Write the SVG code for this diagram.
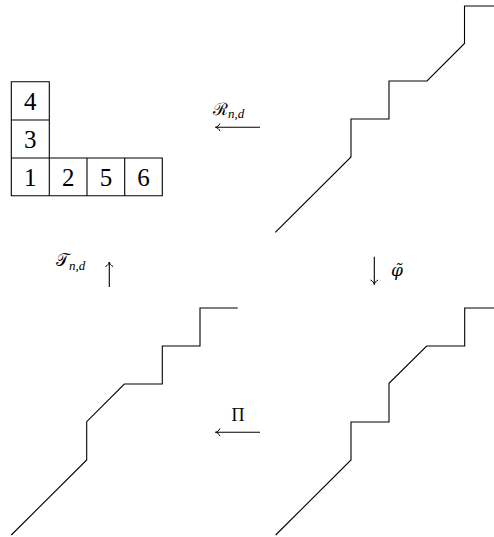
<svg xmlns="http://www.w3.org/2000/svg" width="494" height="537" viewBox="0 0 494 537">
<style>
.ln{fill:none;stroke:#000;stroke-width:1.1;stroke-linejoin:miter}
.dg{font-family:'Liberation Serif','Times New Roman',serif;font-size:25px;text-anchor:middle}
.lb{font-family:'Liberation Serif','DejaVu Serif',serif;font-size:18px}
.it{font-style:italic}
.sb{font-family:'Liberation Serif',serif;font-style:italic;font-size:13px}
</style>
<defs>
<marker id="ah" markerWidth="10" markerHeight="10" refX="0" refY="0" orient="auto" markerUnits="userSpaceOnUse" overflow="visible">
<path d="M-4.5,-3.8 C-3.5,-1.5 -1.5,-0.3 0,0 C-1.5,0.3 -3.5,1.5 -4.5,3.8" fill="none" stroke="#000" stroke-width="1"/>
</marker>
</defs>
<rect width="494" height="537" fill="#fff"/>
<g id="tableau">
<path class="ln" d="M11.3,81.7H49.3V195.7H11.3Z M11.3,120H49.3 M11.3,158H162.3V195.7H49.3 M87,158V195.7 M124.7,158V195.7"/>
<text class="dg" x="30.3" y="110">4</text>
<text class="dg" x="30.3" y="148">3</text>
<text class="dg" x="30.3" y="186">1</text>
<text class="dg" x="68.2" y="186">2</text>
<text class="dg" x="105.9" y="186">5</text>
<text class="dg" x="143.5" y="186">6</text>
</g>
<g id="path-top-right">
<path class="ln" d="M275.3,232.3L351,157V119H389V81H427L464.5,43.5V6H494"/>
</g>
<g id="path-bottom-left">
<path class="ln" d="M11.3,535L86.7,460V421.7L124.3,384H162.3V346H200V308H237.7"/>
</g>
<g id="path-bottom-right">
<path class="ln" d="M275.7,535L351,460V422H389V383.3L426.7,346H464.7V308H494"/>
</g>
<g id="connectors">
<line class="ln" x1="260" y1="127.3" x2="215.5" y2="127.3" marker-end="url(#ah)"/>
<text x="213" y="115"><tspan font-family="DejaVu Serif" font-size="17">ℛ</tspan><tspan class="sb" dy="3">n,d</tspan></text>
<line class="ln" x1="260" y1="432.3" x2="215.5" y2="432.3" marker-end="url(#ah)"/>
<text class="lb" x="238" y="421" text-anchor="middle">Π</text>
<line class="ln" x1="109.3" y1="287" x2="109.3" y2="262" marker-end="url(#ah)"/>
<text x="56" y="266"><tspan font-family="DejaVu Serif" font-size="17">𝒯</tspan><tspan class="sb" dy="4">n,d</tspan></text>
<line class="ln" x1="374.3" y1="256.7" x2="374.3" y2="284.5" marker-end="url(#ah)"/>
<text x="391" y="276" font-family="DejaVu Serif" font-style="italic" font-size="17">φ̃</text>
</g>
</svg>
